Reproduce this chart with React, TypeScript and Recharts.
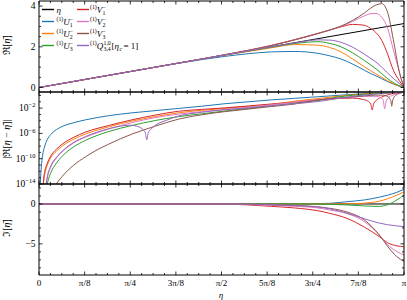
import React from 'react';
import { LineChart, Line, XAxis, YAxis } from 'recharts';

const FONT = '"Liberation Serif", "DejaVu Serif", serif';
const W = 407;
const H = 300;
const PLOT_L = 39;
const PLOT_R = 404;
const PI = Math.PI;

// ---------- x axis ----------
const X_LABELS = ['0', 'π/8', 'π/4', '3π/8', 'π/2', '5π/8', '3π/4', '7π/8', 'π'];
const X_TICKS = Array.from({ length: 33 }, (_, i) => (i * PI) / 32);

// ---------- colours ----------
const COLORS = {
  eta: '#000000',
  U1: '#1f77b4',
  U2: '#ff7f0e',
  U3: '#2ca02c',
  V1: '#d62728',
  V2: '#e377c2',
  V3: '#8c564b',
  Q: '#9467bd',
};

// ---------- top panel: Re[eta-bar] ----------
const TOP_ETA = [0, 0.4, 0.8, 1.2, 1.4, 1.6, 1.8, 2.0, 2.2, 2.4, 2.5, 2.6, 2.7, 2.8, 2.85, 2.9, 2.95, 3.0, 3.05, 3.1, 3.14159];
const RE_ETA_X = [0, 3.14159];
const RE_ETA = [0, 3.14159];
const RE_U1 = [0, 0.4, 0.8, 1.19, 1.37, 1.53, 1.66, 1.75, 1.77, 1.68, 1.56, 1.4, 1.15, 0.85, 0.7, 0.57, 0.43, 0.29, 0.17, 0.07, 0];
const RE_U2 = [0, 0.4, 0.8, 1.2, 1.4, 1.59, 1.77, 1.95, 2.11, 2.08, 1.97, 1.75, 1.4, 1.02, 0.84, 0.67, 0.5, 0.33, 0.19, 0.07, 0];
const RE_U3 = [0, 0.4, 0.8, 1.2, 1.4, 1.6, 1.79, 1.98, 2.16, 2.25, 2.17, 2.0, 1.7, 1.33, 1.13, 0.92, 0.68, 0.44, 0.24, 0.09, 0];
const RE_V1 = [0, 0.4, 0.8, 1.2, 1.4, 1.61, 1.83, 2.07, 2.35, 2.66, 2.82, 2.98, 3.1, 3.06, 2.92, 2.7, 2.32, 1.65, 0.85, 0.35, 0];
const RE_V2 = [0, 0.4, 0.8, 1.2, 1.4, 1.61, 1.82, 2.06, 2.34, 2.65, 2.82, 3.0, 3.25, 3.52, 3.62, 3.64, 3.45, 2.92, 1.85, 0.8, 0];
const RE_V3 = [0, 0.4, 0.8, 1.2, 1.4, 1.61, 1.82, 2.06, 2.34, 2.65, 2.82, 3.02, 3.3, 3.66, 3.88, 4.05, 4.12, 3.7, 2.35, 0.8, 0];
const RE_Q = [0, 0.4, 0.8, 1.2, 1.4, 1.6, 1.8, 2.0, 2.19, 2.34, 2.33, 2.22, 1.98, 1.64, 1.45, 1.25, 1.0, 0.72, 0.45, 0.2, 0];

// ---------- middle panel: |Re[eta - eta-bar]| ----------
const M_U1_X = [0.008, 0.02, 0.03, 0.05, 0.07, 0.1, 0.15, 0.2, 0.3, 0.4, 0.6, 0.8, 1.0, 1.2, 1.4, 1.6, 1.8, 2.0, 2.2, 2.4, 2.6, 2.8, 3.0, 3.14159];
const M_U1 = [1e-15, 5e-12, 2.5e-10, 1e-8, 1e-7, 6.3e-7, 4e-6, 1.26e-5, 5e-5, 1.4e-4, 6.3e-4, 1.8e-3, 4e-3, 8.9e-3, 0.02, 0.05, 0.1, 0.2, 0.355, 0.63, 1.12, 1.95, 2.7, 3.14159];

const M_U2_X = [0.033, 0.04, 0.05, 0.07, 0.1, 0.15, 0.2, 0.3, 0.4, 0.6, 0.8, 1.0, 1.2, 1.4, 1.6, 1.8, 2.0, 2.2, 2.4, 2.6, 2.8, 3.0, 3.14159];
const M_U2 = [1e-15, 2.5e-14, 4e-13, 7.9e-12, 1.26e-10, 1.6e-9, 1e-8, 1.26e-7, 7.9e-7, 1.1e-5, 8.9e-5, 4.5e-4, 1.8e-3, 4.5e-3, 8.9e-3, 0.018, 0.04, 0.126, 0.32, 0.83, 1.78, 2.7, 3.14159];

const M_U3_X = [0.062, 0.075, 0.1, 0.15, 0.2, 0.3, 0.4, 0.6, 0.8, 1.0, 1.2, 1.4, 1.6, 1.8, 2.0, 2.2, 2.4, 2.6, 2.8, 3.0, 3.14159];
const M_U3 = [1e-15, 2e-14, 5e-13, 2e-11, 2.5e-10, 7.9e-9, 7.9e-8, 2e-6, 1.8e-5, 1.1e-4, 4.5e-4, 1.26e-3, 3.5e-3, 8.9e-3, 0.022, 0.063, 0.16, 0.68, 1.5, 2.57, 3.14159];

const M_V1_X = [0.035, 0.04, 0.05, 0.07, 0.1, 0.15, 0.2, 0.3, 0.4, 0.6, 0.8, 1.0, 1.2, 1.4, 1.6, 1.8, 2.0, 2.2, 2.4, 2.6, 2.7, 2.78, 2.83, 2.855, 2.868, 2.88, 2.91, 2.95, 3.0, 3.05, 3.1, 3.14159];
const M_V1 = [1e-15, 6.3e-14, 1e-12, 1.6e-11, 2.5e-10, 3.2e-9, 2e-8, 2.5e-7, 1.6e-6, 1.8e-5, 1.4e-4, 7.9e-4, 3.2e-3, 6.3e-3, 0.011, 0.022, 0.045, 0.089, 0.2, 0.355, 0.38, 0.26, 0.126, 0.045, 0.005, 0.045, 0.22, 0.56, 1.26, 2.1, 2.75, 3.14159];

const M_V2_X = [0.055, 0.07, 0.1, 0.15, 0.2, 0.3, 0.4, 0.6, 0.8, 1.0, 1.2, 1.4, 1.6, 1.8, 2.0, 2.2, 2.4, 2.6, 2.7, 2.8, 2.9, 2.94, 2.962, 2.975, 2.988, 3.01, 3.04, 3.07, 3.1, 3.14159];
const M_V2 = [1e-15, 6.3e-14, 4e-12, 1.26e-10, 1.26e-9, 3.2e-8, 2.5e-7, 5e-6, 5e-5, 3.2e-4, 1.1e-3, 2.8e-3, 6.3e-3, 0.014, 0.035, 0.09, 0.22, 0.4, 0.55, 0.72, 0.74, 0.5, 0.2, 0.008, 0.12, 0.5, 1.0, 1.6, 2.2, 3.14159];

const M_V3_X = [0.12, 0.15, 0.2, 0.3, 0.4, 0.5, 0.6, 0.7, 0.8, 0.9, 1.0, 1.2, 1.4, 1.6, 1.8, 2.0, 2.2, 2.4, 2.6, 2.8, 2.9, 2.96, 3.0, 3.02, 3.03, 3.036, 3.042, 3.05, 3.075, 3.1, 3.14159];
const M_V3 = [1e-15, 1e-14, 1.6e-13, 1e-11, 2e-10, 2.5e-9, 2e-8, 1.4e-7, 7.9e-7, 3.5e-6, 1.4e-5, 1.8e-4, 8.9e-4, 2.8e-3, 7.1e-3, 0.018, 0.045, 0.2, 0.42, 0.86, 1.15, 1.1, 0.7, 0.3, 0.1, 0.02, 0.1, 0.35, 1.2, 2.2, 3.14159];

const M_Q_X = [0.055, 0.07, 0.1, 0.15, 0.2, 0.3, 0.4, 0.5, 0.6, 0.7, 0.78, 0.84, 0.89, 0.915, 0.928, 0.94, 0.965, 1.0, 1.1, 1.2, 1.4, 1.6, 1.8, 2.0, 2.2, 2.4, 2.6, 2.8, 3.0, 3.14159];
const M_Q = [1e-15, 1e-13, 6.3e-12, 1.6e-10, 1.6e-9, 4e-8, 3.2e-7, 1.6e-6, 5.6e-6, 1.4e-5, 2e-5, 1.4e-5, 5e-6, 1.26e-6, 1e-7, 1.26e-6, 5e-6, 1.8e-5, 1.26e-4, 5.6e-4, 2.2e-3, 5.6e-3, 0.011, 0.025, 0.05, 0.11, 0.4, 1.17, 2.34, 3.14159];

// ---------- bottom panel: Im[eta-bar] ----------
const BOT_ETA = [0, 1.0, 1.6, 1.8, 2.0, 2.2, 2.4, 2.5, 2.65, 2.8, 2.93, 3.0, 3.08, 3.14159];
const IM_ETA_X = [0, 3.14159];
const IM_ETA = [0, 0];
const IM_U1 = [0, 0, 0, 0, 0.01, 0.02, 0.05, 0.08, 0.28, 0.5, 0.85, 1.1, 1.46, 1.83];
const IM_U2 = [0, 0, 0, 0, 0, 0, 0, 0, 0.02, 0.1, 0.35, 0.65, 1.1, 1.5];
const IM_U3 = [0, 0, 0, 0, 0, 0, -0.02, -0.05, -0.12, -0.25, -0.3, -0.1, 0.5, 1.1];
const IM_V1 = [0, -0.005, -0.03, -0.12, -0.3, -0.5, -0.85, -1.17, -1.8, -2.9, -4.1, -4.85, -5.25, -5.35];
const IM_V2 = [0, 0, -0.02, -0.07, -0.18, -0.3, -0.5, -0.75, -1.2, -2.2, -3.9, -5.1, -5.95, -6.4];
const IM_V3 = [0, 0, -0.01, -0.03, -0.1, -0.2, -0.35, -0.54, -1.0, -2.0, -3.9, -5.3, -6.6, -7.2];
const IM_Q = [0, 0, 0, -0.02, -0.08, -0.18, -0.38, -0.6, -1.15, -1.85, -2.4, -2.6, -2.75, -2.84];

// ---------- y ticks ----------
const TOP_TICKS = [0, 0.5, 1, 1.5, 2, 2.5, 3, 3.5, 4];
const TOP_MAJOR = [0, 2, 4];
const MID_TICKS = [1e-14, 1e-13, 1e-12, 1e-11, 1e-10, 1e-9, 1e-8, 1e-7, 1e-6, 1e-5, 1e-4, 1e-3, 1e-2, 1e-1, 1];
const MID_MAJOR_EXP = [-14, -10, -6, -2];
const BOT_TICKS = [-8, -7, -6, -5, -4, -3, -2, -1, 0, 1, 2];
const BOT_MAJOR = [-5, 0];

type Pt = { x: number; y: number };
const zip = (xs: number[], ys: number[]): Pt[] => xs.map((x, i) => ({ x, y: ys[i] }));

type Series = { key: string; color: string; data: Pt[] };

const TOP_SERIES: Series[] = [
  { key: 'eta', color: COLORS.eta, data: zip(RE_ETA_X, RE_ETA) },
  { key: 'U1', color: COLORS.U1, data: zip(TOP_ETA, RE_U1) },
  { key: 'U2', color: COLORS.U2, data: zip(TOP_ETA, RE_U2) },
  { key: 'U3', color: COLORS.U3, data: zip(TOP_ETA, RE_U3) },
  { key: 'V1', color: COLORS.V1, data: zip(TOP_ETA, RE_V1) },
  { key: 'V2', color: COLORS.V2, data: zip(TOP_ETA, RE_V2) },
  { key: 'V3', color: COLORS.V3, data: zip(TOP_ETA, RE_V3) },
  { key: 'Q', color: COLORS.Q, data: zip(TOP_ETA, RE_Q) },
];
const MID_SERIES: Series[] = [
  { key: 'U1', color: COLORS.U1, data: zip(M_U1_X, M_U1) },
  { key: 'U2', color: COLORS.U2, data: zip(M_U2_X, M_U2) },
  { key: 'U3', color: COLORS.U3, data: zip(M_U3_X, M_U3) },
  { key: 'V1', color: COLORS.V1, data: zip(M_V1_X, M_V1) },
  { key: 'V2', color: COLORS.V2, data: zip(M_V2_X, M_V2) },
  { key: 'V3', color: COLORS.V3, data: zip(M_V3_X, M_V3) },
  { key: 'Q', color: COLORS.Q, data: zip(M_Q_X, M_Q) },
];
const BOT_SERIES: Series[] = [
  { key: 'eta', color: COLORS.eta, data: zip(IM_ETA_X, IM_ETA) },
  { key: 'U1', color: COLORS.U1, data: zip(BOT_ETA, IM_U1) },
  { key: 'U2', color: COLORS.U2, data: zip(BOT_ETA, IM_U2) },
  { key: 'U3', color: COLORS.U3, data: zip(BOT_ETA, IM_U3) },
  { key: 'V1', color: COLORS.V1, data: zip(BOT_ETA, IM_V1) },
  { key: 'V2', color: COLORS.V2, data: zip(BOT_ETA, IM_V2) },
  { key: 'V3', color: COLORS.V3, data: zip(BOT_ETA, IM_V3) },
  { key: 'Q', color: COLORS.Q, data: zip(BOT_ETA, IM_Q) },
];

const TICK_W = 0.8;
const MAJ = 3.5;
const MIN = 2;

function XTick(props: any) {
  const { x, y, index, dir, show } = props;
  const major = index % 4 === 0;
  const len = major ? MAJ : MIN;
  return (
    <g>
      <line x1={x} y1={y} x2={x} y2={y + dir * len} stroke="#000" strokeWidth={TICK_W} />
      {show && major ? (
        <text x={x} y={y + 11} textAnchor="middle" fontSize={9} fontFamily={FONT} fill="#000">
          {X_LABELS[index / 4]}
        </text>
      ) : null}
    </g>
  );
}

function YTick(props: any) {
  const { x, y, payload, dir, isMajor, fmt } = props;
  const v = payload.value;
  const major = isMajor(v);
  const len = major ? MAJ : MIN;
  return (
    <g>
      <line x1={x} y1={y} x2={x + dir * len} y2={y} stroke="#000" strokeWidth={TICK_W} />
      {fmt && major ? fmt(v, x - 3.5, y) : null}
    </g>
  );
}

const linFmt = (v: number, x: number, y: number) => (
  <text x={x} y={y + 3} textAnchor="end" fontSize={9.5} fontFamily={FONT} fill="#000">
    {v < 0 ? `−${Math.abs(v)}` : `${v}`}
  </text>
);

const logFmt = (v: number, x: number, y: number) => {
  const e = Math.round(Math.log10(v));
  return (
    <text x={x} y={y + 3} textAnchor="end" fontSize={9.5} fontFamily={FONT} fill="#000">
      10
      <tspan dy={-3.8} fontSize={6.5}>
        {e < 0 ? `−${Math.abs(e)}` : `${e}`}
      </tspan>
    </text>
  );
};

function Panel(props: {
  top: number;
  bottom: number;
  domain: [number, number];
  scale: 'linear' | 'log';
  ticks: number[];
  isMajor: (v: number) => boolean;
  fmt: (v: number, x: number, y: number) => any;
  showX: boolean;
  series: Series[];
}) {
  const { top, bottom, domain, scale, ticks, isMajor, fmt, showX, series } = props;
  const axisLine = { stroke: '#000', strokeWidth: 1 };
  return (
    <LineChart
      width={W}
      height={H}
      margin={{ top: top - 1, bottom: H - bottom - 1, left: PLOT_L - 1, right: W - PLOT_R - 1 }}
      style={{ position: 'absolute', left: 0, top: 0 }}
    >
      <XAxis
        xAxisId="b"
        dataKey="x"
        type="number"
        domain={[0, PI]}
        allowDataOverflow
        ticks={X_TICKS}
        interval={0}
        height={1}
        tickSize={0}
        tickMargin={0}
        tickLine={false}
        axisLine={axisLine}
        tick={(p: any) => <XTick {...p} dir={-1} show={showX} />}
      />
      <XAxis
        xAxisId="t"
        orientation="top"
        dataKey="x"
        type="number"
        domain={[0, PI]}
        allowDataOverflow
        ticks={X_TICKS}
        interval={0}
        height={1}
        tickSize={0}
        tickMargin={0}
        tickLine={false}
        axisLine={axisLine}
        tick={(p: any) => <XTick {...p} dir={1} show={false} />}
      />
      <YAxis
        yAxisId="l"
        type="number"
        scale={scale}
        domain={domain}
        allowDataOverflow
        ticks={ticks}
        interval={0}
        width={1}
        tickSize={0}
        tickMargin={0}
        tickLine={false}
        axisLine={axisLine}
        tick={(p: any) => <YTick {...p} dir={1} isMajor={isMajor} fmt={fmt} />}
      />
      <YAxis
        yAxisId="r"
        orientation="right"
        type="number"
        scale={scale}
        domain={domain}
        allowDataOverflow
        ticks={ticks}
        interval={0}
        width={1}
        tickSize={0}
        tickMargin={0}
        tickLine={false}
        axisLine={axisLine}
        tick={(p: any) => <YTick {...p} dir={-1} isMajor={isMajor} fmt={null} />}
      />
      {series.map((s) => (
        <Line
          key={s.key}
          xAxisId="b"
          yAxisId="l"
          data={s.data}
          dataKey="y"
          type="monotone"
          stroke={s.color}
          strokeWidth={1}
          dot={false}
          activeDot={false}
          isAnimationActive={false}
        />
      ))}
    </LineChart>
  );
}

const SCRIPT = 5.8;
const MAIN = 9;

function SymLabel({ x, y, letter, sub, sup }: { x: number; y: number; letter: string; sub: string; sup: string }) {
  const lx = x + 6.8;
  const sx = lx + (letter === 'V' ? 5.8 : 6.4);
  return (
    <g fontFamily={FONT} fill="#000">
      <text x={x} y={y - 3.2} fontSize={SCRIPT}>(1)</text>
      <text x={lx} y={y} fontSize={MAIN} fontStyle="italic">{letter}</text>
      <text x={sx} y={y + 2} fontSize={SCRIPT}>{sub}</text>
      <text x={sx} y={y - 3.8} fontSize={SCRIPT}>{sup}</text>
    </g>
  );
}

function Legend() {
  const rows = [9.5, 21.5, 33.5, 45.5];
  const c0h = [42, 54];
  const c1h = [77, 89];
  const t0 = 56.5;
  const t1 = 90;
  const handle = (x: number[], y: number, color: string, k: string) => (
    <line key={k} x1={x[0]} x2={x[1]} y1={y} y2={y} stroke={color} strokeWidth={1.4} />
  );
  return (
    <g>
      {handle(c0h, rows[0], COLORS.eta, 'h0')}
      {handle(c0h, rows[1], COLORS.U1, 'h1')}
      {handle(c0h, rows[2], COLORS.U2, 'h2')}
      {handle(c0h, rows[3], COLORS.U3, 'h3')}
      {handle(c1h, rows[0], COLORS.V1, 'h4')}
      {handle(c1h, rows[1], COLORS.V2, 'h5')}
      {handle(c1h, rows[2], COLORS.V3, 'h6')}
      {handle(c1h, rows[3], COLORS.Q, 'h7')}
      <text x={t0} y={rows[0] + 3} fontSize={MAIN} fontStyle="italic" fontFamily={FONT}>η</text>
      <SymLabel x={t0} y={rows[1] + 3} letter="U" sub="1" sup="−" />
      <SymLabel x={t0} y={rows[2] + 3} letter="U" sub="2" sup="−" />
      <SymLabel x={t0} y={rows[3] + 3} letter="U" sub="3" sup="−" />
      <SymLabel x={t1} y={rows[0] + 3} letter="V" sub="1" sup="−" />
      <SymLabel x={t1} y={rows[1] + 3} letter="V" sub="2" sup="−" />
      <SymLabel x={t1} y={rows[2] + 3} letter="V" sub="3" sup="−" />
      <g fontFamily={FONT} fill="#000">
        <text x={t1} y={rows[3] + 3 - 3.2} fontSize={SCRIPT}>(1)</text>
        <text x={t1 + 6.8} y={rows[3] + 3} fontSize={MAIN} fontStyle="italic">Q</text>
        <text x={t1 + 13.5} y={rows[3] + 3 - 3.8} fontSize={SCRIPT}>1,0</text>
        <text x={t1 + 13.5} y={rows[3] + 3 + 2} fontSize={SCRIPT}>3,4</text>
        <text x={t1 + 21.5} y={rows[3] + 3} fontSize={MAIN}>
          [<tspan fontStyle="italic">η</tspan>
        </text>
        <text x={t1 + 29.6} y={rows[3] + 3 + 2} fontSize={SCRIPT} fontStyle="italic">c</text>
        <text x={t1 + 33.5} y={rows[3] + 3} fontSize={MAIN}>= 1]</text>
      </g>
    </g>
  );
}

export default function App() {
  return (
    <div style={{ position: 'fixed', left: 0, top: 0, width: W, height: H, background: '#fff', overflow: 'hidden' }}>
      <Panel
        top={1}
        bottom={92}
        domain={[-0.22, 4.25]}
        scale="linear"
        ticks={TOP_TICKS}
        isMajor={(v) => TOP_MAJOR.includes(v)}
        fmt={linFmt}
        showX={false}
        series={TOP_SERIES}
      />
      <Panel
        top={92}
        bottom={184}
        domain={[1e-14, 3.55]}
        scale="log"
        ticks={MID_TICKS}
        isMajor={(v) => MID_MAJOR_EXP.includes(Math.round(Math.log10(v)))}
        fmt={logFmt}
        showX={false}
        series={MID_SERIES}
      />
      <Panel
        top={184}
        bottom={275}
        domain={[-8.9, 2.5]}
        scale="linear"
        ticks={BOT_TICKS}
        isMajor={(v) => BOT_MAJOR.includes(v)}
        fmt={linFmt}
        showX={true}
        series={BOT_SERIES}
      />
      <svg width={W} height={H} style={{ position: 'absolute', left: 0, top: 0, pointerEvents: 'none' }} fontFamily={FONT}>
        <Legend />
        <text transform="translate(10,45) rotate(-90)" textAnchor="middle" fontSize={10} fill="#000">
          ℜ[<tspan fontStyle="italic">η̄</tspan>]
        </text>
        <text transform="translate(10,139) rotate(-90)" textAnchor="middle" fontSize={10} fill="#000">
          |ℜ[<tspan fontStyle="italic">η</tspan> − <tspan fontStyle="italic">η̄</tspan>]|
        </text>
        <text transform="translate(10,228) rotate(-90)" textAnchor="middle" fontSize={10} fill="#000">
          ℑ[<tspan fontStyle="italic">η̄</tspan>]
        </text>
        <text x={221} y={297.5} textAnchor="middle" fontSize={9} fontStyle="italic" fill="#000">η</text>
      </svg>
    </div>
  );
}
